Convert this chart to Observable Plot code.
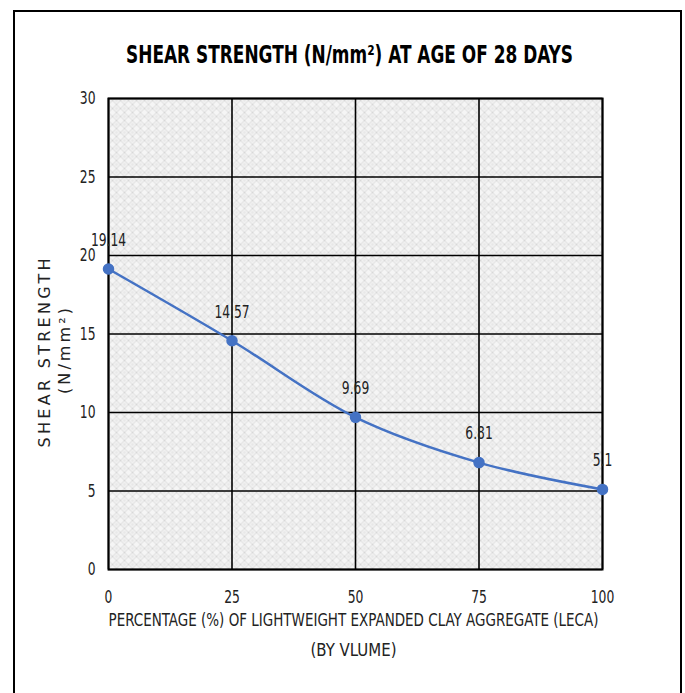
<!DOCTYPE html>
<html><head><meta charset="utf-8">
<script src="https://cdn.jsdelivr.net/npm/d3@7"></script>
<script src="https://cdn.jsdelivr.net/npm/@observablehq/plot@0.6"></script>
<style>
body{margin:0;background:#fff}
#wrap{position:relative;width:685px;height:693px;overflow:hidden}
#border{position:absolute;left:13px;top:10px;width:669px;height:700px;border:2px solid #000;border-bottom:none;box-sizing:border-box;pointer-events:none}
</style>
</head><body>
<div id="wrap"><div id="border"></div></div>
<script>
const percentages = [0, 25, 50, 75, 100];
const shearStrength = [19.14, 14.57, 9.69, 6.81, 5.1];
const labels = ["19.14", "14.57", "9.69", "6.81", "5.1"];
const xTicks = [0, 25, 50, 75, 100];
const yTicks = [0, 5, 10, 15, 20, 25, 30];
const title = "SHEAR STRENGTH (N/mm²) AT AGE OF 28 DAYS";
const xLabel1 = "PERCENTAGE (%) OF LIGHTWEIGHT EXPANDED CLAY AGGREGATE (LECA)";
const xLabel2 = "(BY VLUME)";
const yLabel1 = "SHEAR STRENGTH";
const yLabel2 = "(N/mm²)";

const data = percentages.map((p, i) => ({p, v: shearStrength[i], label: labels[i]}));
const blue = "#4472C4";
const font = "'DejaVu Sans Condensed', sans-serif";

const chart = Plot.plot({
  width: 685, height: 693,
  marginLeft: 108, marginRight: 83, marginTop: 98, marginBottom: 124,
  style: {fontFamily: font, fontSize: "18px", color: "#222", background: "transparent"},
  x: {domain: [0, 100], label: null},
  y: {domain: [0, 30], label: null},
  marks: [
    Plot.frame({fill: "url(#hatch)", stroke: null}),
    Plot.gridX(xTicks, {stroke: "#000", strokeOpacity: 1, strokeWidth: 1.6}),
    Plot.gridY(yTicks, {stroke: "#000", strokeOpacity: 1, strokeWidth: 1.6}),
    Plot.frame({stroke: "#000", strokeWidth: 2}),
    Plot.axisX(xTicks, {tickSize: 0, tickPadding: 21, fontSize: 18, fill: "#222", label: null}),
    Plot.axisY(yTicks, {tickSize: 0, tickPadding: 13, fontSize: 18, fill: "#222", label: null}),
    Plot.line(data, {x: "p", y: "v", stroke: blue, strokeWidth: 2.5, curve: "catmull-rom"}),
    Plot.dot(data, {x: "p", y: "v", r: 5, fill: blue, stroke: blue}),
    Plot.text(data, {x: "p", y: "v", text: "label", dy: -29, fontSize: 18, fill: "#222"}),
    Plot.text([title], {frameAnchor: "top", lineAnchor: "middle", dx: -6, dy: -44, fontSize: 25, fontWeight: "bold", fill: "#000"}),
    Plot.text([xLabel1], {frameAnchor: "bottom", lineAnchor: "middle", dx: -2, dy: 51, fontSize: 17, fill: "#222"}),
    Plot.text([xLabel2], {frameAnchor: "bottom", lineAnchor: "middle", dx: -2, dy: 81, fontSize: 17, fill: "#222"}),
    Plot.text([yLabel1], {frameAnchor: "left", textAnchor: "middle", dx: -64, dy: 19, rotate: -90, fontSize: 16, fill: "#222", fontFamily: "'DejaVu Sans', sans-serif"}),
    Plot.text([yLabel2], {frameAnchor: "left", textAnchor: "middle", dx: -44, dy: 17, rotate: -90, fontSize: 16, fill: "#222", fontFamily: "'DejaVu Sans', sans-serif"})
  ]
});

const ns = "http://www.w3.org/2000/svg";
const defs = document.createElementNS(ns, "defs");
defs.innerHTML = `<pattern id="hatch" width="8" height="8" patternUnits="userSpaceOnUse">
  <rect width="8" height="8" fill="#f5f5f5"/>
  <path d="M0 4 L4 0 L8 4 L4 8 Z" fill="none" stroke="#d0d0d0" stroke-width="0.8"/>
  <path d="M2 4 H6 M4 2 V6" stroke="#dcdcdc" stroke-width="0.6"/>
</pattern>`;
chart.insertBefore(defs, chart.firstChild);
chart.style.position = "absolute";
chart.style.left = "0";
chart.style.top = "0";
document.getElementById("wrap").appendChild(chart);

// Narrow the glyphs to imitate the condensed typeface of the reference
const targets = new Map([
  [title, [447, "spacingAndGlyphs"]],
  [xLabel1, [490, "spacingAndGlyphs"]],
  [xLabel2, [86, "spacingAndGlyphs"]],
  [yLabel1, [189, "spacing"]],
  [yLabel2, [86, "spacing"]]
]);
chart.querySelectorAll("text").forEach(t => {
  if (t.querySelector("tspan")) return;
  const len = t.getComputedTextLength();
  const s = t.textContent;
  if (targets.has(s)) {
    const [L, adj] = targets.get(s);
    t.setAttribute("textLength", L);
    t.setAttribute("lengthAdjust", adj);
  } else if (len > 0) {
    t.setAttribute("textLength", (len * 0.76).toFixed(1));
    t.setAttribute("lengthAdjust", "spacingAndGlyphs");
  }
});
</script>
</body></html>
